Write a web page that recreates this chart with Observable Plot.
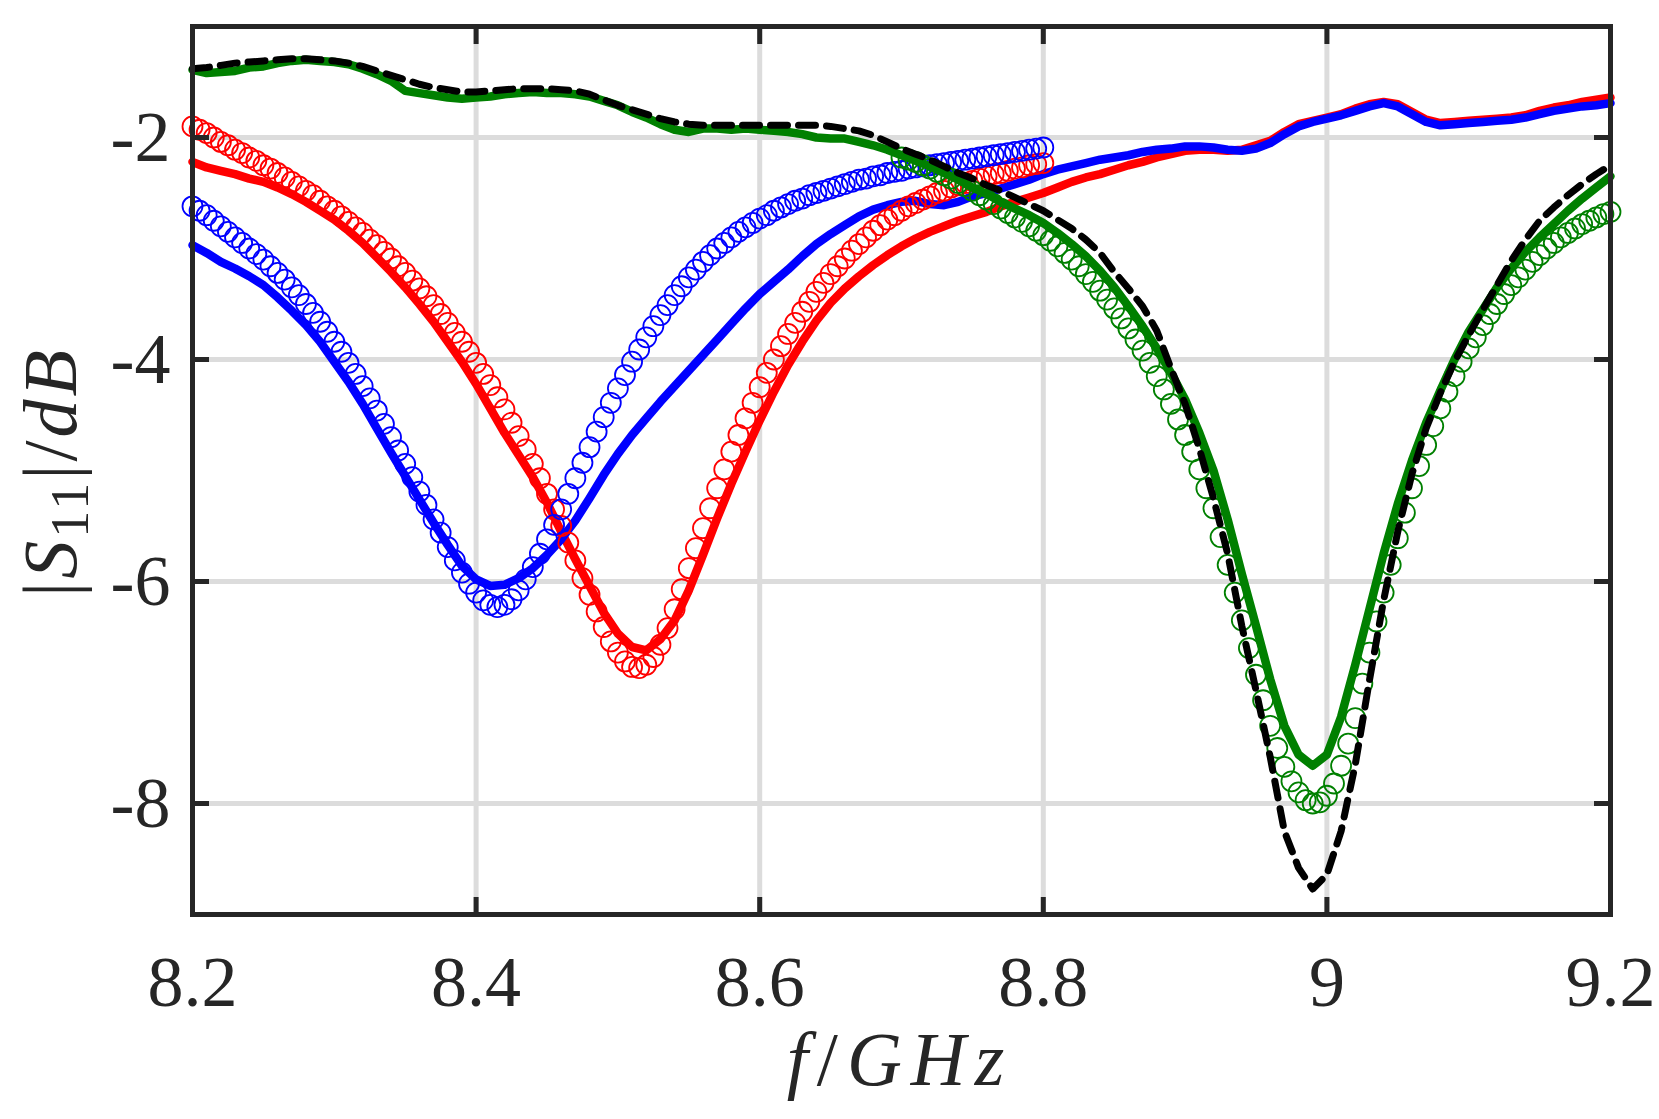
<!DOCTYPE html>
<html><head><meta charset="utf-8">
<script src="https://cdn.jsdelivr.net/npm/d3@7"></script>
<script src="https://cdn.jsdelivr.net/npm/@observablehq/plot@0.6"></script>
<style>
html,body{margin:0;padding:0;background:#fff;}
#chart{width:1659px;height:1119px;overflow:hidden;}
#chart svg, #chart svg text{font-family:"Liberation Serif","Times New Roman",Times,"Nimbus Roman","DejaVu Serif",serif !important;}
</style></head><body><div id="chart"></div>
<script>
// ---- axis ticks ----
const xTicks = [8.2, 8.4, 8.6, 8.8, 9, 9.2];
const xTickLabels = ["8.2", "8.4", "8.6", "8.8", "9", "9.2"];
const yTicks = [-8, -6, -4, -2];
const yTickLabels = ["-8", "-6", "-4", "-2"];

// ---- frequency sweeps (GHz) ----
const measStart = 8.2, measStep = 0.01;      // measured / simulated traces, 8.2 .. 9.2
const fitABStart = 8.2, fitStep = 0.005;     // fitted A and B, 8.2 .. 8.8
const fitCStart = 8.7;                       // fitted C, 8.7 .. 9.2

// ---- measured A (red line), dB ----
const measRed = [
-2.22,-2.27,-2.30,-2.33,-2.37,-2.40,-2.45,-2.51,-2.58,-2.66,
-2.74,-2.84,-2.95,-3.08,-3.21,-3.35,-3.50,-3.66,-3.84,-4.02,
-4.22,-4.44,-4.66,-4.86,-5.06,-5.29,-5.55,-5.80,-6.04,-6.28,
-6.47,-6.59,-6.62,-6.52,-6.35,-6.08,-5.76,-5.43,-5.12,-4.83,
-4.55,-4.29,-4.05,-3.84,-3.65,-3.49,-3.36,-3.25,-3.15,-3.06,
-2.98,-2.91,-2.85,-2.80,-2.75,-2.71,-2.67,-2.62,-2.58,-2.54,
-2.50,-2.45,-2.40,-2.36,-2.33,-2.29,-2.25,-2.22,-2.18,-2.15,
-2.12,-2.11,-2.11,-2.12,-2.11,-2.07,-2.03,-1.95,-1.88,-1.85,
-1.82,-1.79,-1.74,-1.70,-1.68,-1.70,-1.77,-1.84,-1.87,-1.86,
-1.85,-1.84,-1.83,-1.82,-1.80,-1.76,-1.73,-1.71,-1.68,-1.66,
-1.64];

// ---- measured B (blue line), dB ----
const measBlue = [
-2.97,-3.04,-3.12,-3.18,-3.25,-3.33,-3.44,-3.56,-3.69,-3.84,
-4.02,-4.20,-4.40,-4.62,-4.84,-5.05,-5.26,-5.47,-5.67,-5.86,
-5.98,-6.04,-6.03,-5.97,-5.88,-5.76,-5.62,-5.45,-5.25,-5.04,
-4.85,-4.68,-4.53,-4.38,-4.24,-4.10,-3.96,-3.82,-3.68,-3.54,
-3.41,-3.30,-3.19,-3.07,-2.96,-2.87,-2.79,-2.71,-2.65,-2.61,
-2.58,-2.57,-2.60,-2.61,-2.58,-2.53,-2.50,-2.46,-2.42,-2.38,
-2.33,-2.29,-2.26,-2.23,-2.20,-2.18,-2.16,-2.13,-2.11,-2.10,
-2.08,-2.08,-2.09,-2.11,-2.12,-2.10,-2.05,-1.97,-1.90,-1.86,
-1.83,-1.80,-1.76,-1.72,-1.69,-1.72,-1.79,-1.86,-1.89,-1.88,
-1.87,-1.86,-1.85,-1.84,-1.82,-1.79,-1.76,-1.74,-1.72,-1.71,
-1.69];

// ---- measured C (green line), dB ----
const measGreen = [
-1.39,-1.42,-1.41,-1.40,-1.37,-1.36,-1.33,-1.31,-1.30,-1.31,
-1.32,-1.34,-1.38,-1.43,-1.49,-1.58,-1.60,-1.62,-1.64,-1.65,
-1.64,-1.63,-1.61,-1.60,-1.59,-1.60,-1.60,-1.61,-1.63,-1.67,
-1.71,-1.77,-1.82,-1.88,-1.93,-1.95,-1.92,-1.92,-1.93,-1.92,
-1.93,-1.94,-1.95,-1.97,-2.00,-2.01,-2.01,-2.04,-2.07,-2.11,
-2.16,-2.21,-2.26,-2.32,-2.38,-2.45,-2.51,-2.58,-2.64,-2.70,
-2.77,-2.86,-2.96,-3.07,-3.20,-3.35,-3.52,-3.70,-3.90,-4.12,
-4.36,-4.66,-5.00,-5.44,-5.93,-6.40,-6.88,-7.30,-7.56,-7.66,
-7.56,-7.22,-6.75,-6.25,-5.75,-5.30,-4.91,-4.57,-4.28,-4.00,
-3.75,-3.55,-3.35,-3.18,-3.03,-2.90,-2.78,-2.66,-2.55,-2.45,
-2.35];

// ---- simulated (black dashed), dB ----
const simBlack = [
-1.38,-1.37,-1.35,-1.33,-1.32,-1.31,-1.30,-1.29,-1.29,-1.30,
-1.31,-1.33,-1.36,-1.40,-1.44,-1.48,-1.52,-1.55,-1.57,-1.59,
-1.59,-1.58,-1.57,-1.56,-1.56,-1.56,-1.57,-1.58,-1.61,-1.66,
-1.71,-1.75,-1.79,-1.83,-1.86,-1.88,-1.89,-1.89,-1.89,-1.89,
-1.89,-1.89,-1.89,-1.89,-1.89,-1.90,-1.92,-1.94,-1.98,-2.04,
-2.10,-2.15,-2.20,-2.26,-2.32,-2.37,-2.43,-2.48,-2.54,-2.60,
-2.66,-2.74,-2.82,-2.92,-3.04,-3.21,-3.36,-3.52,-3.74,-4.08,
-4.40,-4.80,-5.25,-5.75,-6.40,-6.98,-7.58,-8.25,-8.58,-8.77,
-8.64,-8.25,-7.65,-6.89,-6.17,-5.55,-5.03,-4.62,-4.30,-4.02,
-3.78,-3.55,-3.33,-3.11,-2.92,-2.75,-2.63,-2.52,-2.42,-2.33,
-2.25];

// ---- fitted A (red circles), dB ----
const fitRed = [
-1.90,-1.93,-1.96,-2.00,-2.04,-2.07,-2.11,-2.14,-2.18,-2.21,
-2.25,-2.28,-2.32,-2.36,-2.40,-2.44,-2.48,-2.52,-2.57,-2.62,
-2.66,-2.71,-2.76,-2.81,-2.86,-2.92,-2.97,-3.03,-3.09,-3.16,
-3.22,-3.29,-3.36,-3.43,-3.51,-3.59,-3.67,-3.76,-3.84,-3.93,
-4.03,-4.13,-4.23,-4.34,-4.45,-4.57,-4.69,-4.81,-4.94,-5.07,
-5.21,-5.35,-5.50,-5.65,-5.81,-5.97,-6.12,-6.27,-6.41,-6.54,
-6.64,-6.72,-6.77,-6.78,-6.75,-6.68,-6.57,-6.42,-6.25,-6.07,
-5.88,-5.70,-5.52,-5.34,-5.16,-4.99,-4.83,-4.68,-4.53,-4.39,
-4.25,-4.12,-4.00,-3.88,-3.77,-3.67,-3.57,-3.48,-3.39,-3.31,
-3.23,-3.16,-3.09,-3.02,-2.96,-2.90,-2.84,-2.79,-2.74,-2.70,
-2.66,-2.62,-2.59,-2.56,-2.53,-2.50,-2.48,-2.45,-2.43,-2.41,
-2.39,-2.37,-2.35,-2.33,-2.32,-2.30,-2.28,-2.27,-2.25,-2.24,
-2.23];

// ---- fitted B (blue circles), dB ----
const fitBlue = [
-2.62,-2.66,-2.70,-2.75,-2.80,-2.85,-2.90,-2.95,-3.00,-3.05,
-3.10,-3.16,-3.22,-3.28,-3.35,-3.42,-3.50,-3.58,-3.66,-3.75,
-3.84,-3.93,-4.03,-4.13,-4.24,-4.35,-4.46,-4.58,-4.70,-4.82,
-4.94,-5.06,-5.19,-5.31,-5.44,-5.56,-5.69,-5.81,-5.92,-6.02,
-6.10,-6.17,-6.21,-6.23,-6.21,-6.16,-6.08,-5.98,-5.87,-5.75,
-5.62,-5.49,-5.35,-5.21,-5.07,-4.93,-4.79,-4.65,-4.52,-4.39,
-4.26,-4.14,-4.02,-3.91,-3.80,-3.70,-3.60,-3.51,-3.42,-3.34,
-3.26,-3.19,-3.12,-3.06,-3.00,-2.95,-2.90,-2.85,-2.81,-2.77,
-2.73,-2.70,-2.66,-2.63,-2.60,-2.57,-2.55,-2.52,-2.50,-2.48,
-2.46,-2.44,-2.42,-2.40,-2.38,-2.37,-2.35,-2.34,-2.32,-2.31,
-2.30,-2.28,-2.27,-2.26,-2.25,-2.24,-2.23,-2.22,-2.21,-2.20,
-2.19,-2.18,-2.17,-2.16,-2.15,-2.14,-2.13,-2.12,-2.11,-2.10,
-2.09];

// ---- fitted C (green circles), dB ----
const fitGreen = [
-2.18,-2.20,-2.22,-2.25,-2.28,-2.31,-2.34,-2.37,-2.41,-2.44,
-2.48,-2.52,-2.56,-2.60,-2.64,-2.68,-2.72,-2.76,-2.80,-2.84,
-2.88,-2.93,-2.98,-3.04,-3.10,-3.16,-3.23,-3.30,-3.38,-3.46,
-3.54,-3.63,-3.72,-3.82,-3.92,-4.03,-4.15,-4.27,-4.40,-4.54,
-4.68,-4.83,-4.99,-5.16,-5.34,-5.60,-5.85,-6.10,-6.35,-6.60,
-6.84,-7.07,-7.30,-7.50,-7.67,-7.80,-7.90,-7.97,-8.00,-7.99,
-7.93,-7.82,-7.66,-7.46,-7.23,-6.92,-6.64,-6.36,-6.10,-5.85,
-5.61,-5.38,-5.16,-4.96,-4.77,-4.60,-4.44,-4.29,-4.15,-4.02,
-3.90,-3.80,-3.69,-3.59,-3.50,-3.41,-3.33,-3.26,-3.19,-3.12,
-3.06,-3.00,-2.95,-2.90,-2.86,-2.82,-2.78,-2.75,-2.72,-2.69,
-2.67];

// ---- tables for Plot ----
const table = (start, step, vals) => vals.map((v, i) => ({f: +(start + i * step).toFixed(3), v}));
const tRed = table(measStart, measStep, measRed);
const tBlue = table(measStart, measStep, measBlue);
const tGreen = table(measStart, measStep, measGreen);
const tBlack = table(measStart, measStep, simBlack);
const tFitRed = table(fitABStart, fitStep, fitRed);
const tFitBlue = table(fitABStart, fitStep, fitBlue);
const tFitGreen = table(fitCStart, fitStep, fitGreen);

const RED = "#ff0000", BLUE = "#0000ff", GREEN = "#008000", INK = "#262626", GRID = "#dcdcdc";
const FONT = "Liberation Serif, Times New Roman, Times, Nimbus Roman, DejaVu Serif, serif";

const plot = Plot.plot({
  width: 1659,
  height: 1119,
  marginLeft: 192,
  marginRight: 49,
  marginTop: 26,
  marginBottom: 205,
  x: {domain: [8.2, 9.2]},
  y: {domain: [-9, -1]},
  style: {fontFamily: FONT, fontSize: "72px", color: INK, background: "#fff", overflow: "visible"},
  marks: [
    Plot.gridX(xTicks, {stroke: GRID, strokeOpacity: 1, strokeWidth: 5}),
    Plot.gridY(yTicks, {stroke: GRID, strokeOpacity: 1, strokeWidth: 5}),
    Plot.line(tRed, {x: "f", y: "v", stroke: RED, strokeWidth: 8.5}),
    Plot.line(tBlue, {x: "f", y: "v", stroke: BLUE, strokeWidth: 8.5}),
    Plot.dot(tFitRed, {x: "f", y: "v", r: 10, stroke: RED, strokeWidth: 1.8, fill: "none"}),
    Plot.dot(tFitBlue, {x: "f", y: "v", r: 10, stroke: BLUE, strokeWidth: 1.8, fill: "none"}),
    Plot.dot(tFitGreen, {x: "f", y: "v", r: 10, stroke: GREEN, strokeWidth: 1.8, fill: "none"}),
    Plot.line(tGreen, {x: "f", y: "v", stroke: GREEN, strokeWidth: 8.5}),
    Plot.line(tBlack, {x: "f", y: "v", stroke: "#000", strokeWidth: 7, strokeDasharray: "17,11"}),
    Plot.frame({stroke: INK, strokeWidth: 5}),
    Plot.axisX(xTicks, {anchor: "bottom", tickSize: 0, tickPadding: 40, label: null,
      tickFormat: d => xTickLabels[xTicks.indexOf(d)], fontSize: 72, fill: INK}),
    Plot.axisX(xTicks, {anchor: "bottom", tickSize: -17, tickFormat: () => "", label: null, stroke: INK, strokeWidth: 5}),
    Plot.axisX(xTicks, {anchor: "top", tickSize: -17, tickFormat: () => "", label: null, stroke: INK, strokeWidth: 5}),
    Plot.axisY(yTicks, {anchor: "left", tickSize: 0, tickPadding: 22, label: null,
      tickFormat: d => yTickLabels[yTicks.indexOf(d)], fontSize: 72, fill: INK}),
    Plot.axisY(yTicks, {anchor: "left", tickSize: -17, tickFormat: () => "", label: null, stroke: INK, strokeWidth: 5}),
    Plot.axisY(yTicks, {anchor: "right", tickSize: -17, tickFormat: () => "", label: null, stroke: INK, strokeWidth: 5})
  ]
});

const svg = d3.select(plot);
// x axis title: f/GHz
const xt = svg.append("text")
  .attr("x", 900).attr("y", 1085)
  .attr("text-anchor", "middle")
  .attr("font-size", 76).attr("fill", INK)
  .attr("letter-spacing", "9px");
xt.append("tspan").attr("font-style", "italic").text("f");
xt.append("tspan").text("/");
xt.append("tspan").attr("font-style", "italic").text("GHz");

// y axis title: |S11|/dB
const yt = svg.append("text")
  .attr("transform", "translate(76,472) rotate(-90)")
  .attr("text-anchor", "middle")
  .attr("font-size", 76).attr("fill", INK)
  .attr("letter-spacing", "3px");
yt.append("tspan").text("|");
yt.append("tspan").attr("font-style", "italic").text("S");
yt.append("tspan").attr("font-size", 54).attr("dy", 12).text("11");
yt.append("tspan").attr("dy", -12).text("|/");
yt.append("tspan").attr("font-style", "italic").text("dB");

document.getElementById("chart").appendChild(plot);
</script>
</body></html>
